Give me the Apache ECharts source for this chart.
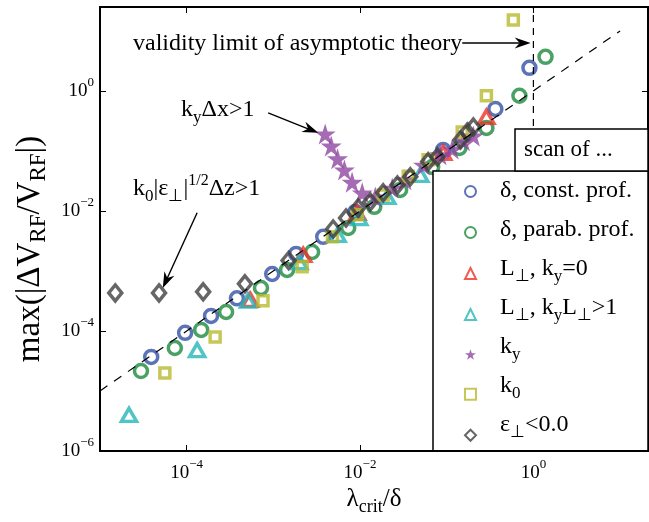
<!DOCTYPE html>
<html>
<head>
<meta charset="utf-8">
<script src="https://cdn.jsdelivr.net/npm/echarts@6/dist/echarts.min.js"></script>
<style>
  html, body { margin: 0; padding: 0; background: #fff; }
  #chart { width: 649px; height: 522px; }
</style>
</head>
<body>
<div id="chart"></div>
<script>
const FONT = "'Liberation Serif', 'Times New Roman', serif";

// Tick positions (powers of ten) on both log axes
const xTickValues = [1e-4, 1e-2, 1];
const yTickValues = [1e-6, 1e-4, 1e-2, 1];

// λ_crit/δ (x) and max(|ΔV_RF/V_RF|) (y) for each scan
const constProfX = [3.9e-5, 9.6e-5, 1.91e-4, 3.8e-4, 9.7e-4, 1.83e-3, 3.76e-3, 8.8e-3, 9.1e-2, 0.364, 0.90];
const constProfY = [3.7e-5, 9.3e-5, 1.78e-4, 3.5e-4, 8.9e-4, 1.92e-3, 3.7e-3, 9.6e-3, 0.104, 0.50, 2.42];

const parabProfX = [2.97e-5, 7.3e-5, 1.47e-4, 2.85e-4, 7.2e-4, 1.44e-3, 2.8e-3, 7.3e-3, 1.46e-2, 2.9e-2, 6.8e-2, 0.140, 0.287, 0.69, 1.38];
const parabProfY = [2.15e-5, 5.2e-5, 1.04e-4, 2.07e-4, 5.2e-4, 1.04e-3, 2.07e-3, 5.2e-3, 1.17e-2, 2.24e-2, 5.4e-2, 0.112, 0.242, 0.83, 3.7];

const lPerpKy0X = [5.4e-4, 2.21e-3, 9.3e-3, 9.1e-2, 0.287];
const lPerpKy0Y = [3.3e-4, 1.85e-3, 9.3e-3, 9.3e-2, 0.369];

const lPerpKyLX = [2.16e-5, 1.32e-4, 5.1e-4, 2.0e-3, 5.5e-3, 9.8e-3, 2.06e-2, 4.95e-2];
const lPerpKyLY = [4.0e-6, 4.8e-5, 3.2e-4, 1.4e-3, 4.0e-3, 7.6e-3, 1.71e-2, 4.0e-2];

const kyScanX = [3.96e-3, 4.65e-3, 5.5e-3, 6.6e-3, 8.1e-3, 1.06e-2, 1.5e-2, 2.35e-2, 3.3e-2, 5.4e-2, 8.4e-2, 0.116, 0.156, 0.203];
const kyScanY = [0.192, 0.121, 7.4e-2, 4.8e-2, 3.0e-2, 2.0e-2, 1.71e-2, 2.4e-2, 3.3e-2, 5.8e-2, 8.6e-2, 0.108, 0.147, 0.178];

const k0ScanX = [5.6e-5, 2.13e-4, 7.6e-4, 2.15e-3, 4.8e-3, 9.3e-3, 1.85e-2, 3.6e-2, 6.1e-2, 0.151, 0.287, 0.587];
const k0ScanY = [2.0e-5, 7.9e-5, 3.2e-4, 1.17e-3, 3.7e-3, 8.6e-3, 1.85e-2, 3.8e-2, 7.1e-2, 0.207, 0.83, 15.2];

const epsNegX = [1.5e-5, 4.8e-5, 1.55e-4, 4.7e-4, 1.5e-3, 4.9e-3, 6.9e-3, 9.5e-3, 1.31e-2, 1.85e-2, 2.7e-2, 3.8e-2, 6.1e-2, 7.8e-2, 0.144, 0.173, 0.203];
const epsNegY = [4.3e-4, 4.3e-4, 4.5e-4, 6.1e-4, 1.5e-3, 5.0e-3, 7.6e-3, 1.12e-2, 1.41e-2, 2.0e-2, 2.7e-2, 3.7e-2, 6.6e-2, 7.9e-2, 0.152, 0.207, 0.25];

// Asymptotic scaling y = x and the validity limit λ_crit/δ = 1
const scalingLineX = [1e-5, 10];
const validityLimitX = 1;

// Annotation arrows, tail and tip in data coordinates
const validityArrow = [[0.151, 6.3], [0.93, 6.3]];
const kyArrow = [[8.7e-4, 0.43], [3.3e-3, 0.2]];
const k0Arrow = [[1.32e-4, 9.3e-3], [5.3e-5, 5.2e-4]];

const seriesNames = ['δ, const. prof.', 'δ, parab. prof.', 'L⊥, ky=0', 'L⊥, kyL⊥>1', 'ky', 'k0', 'ε⊥<0.0'];
const legendRichText = [
  '{n|δ, const. prof.}',
  '{n|δ, parab. prof.}',
  '{n|L}{s|⊥}{n|, k}{s|y}{n|=0}',
  '{n|L}{s|⊥}{n|, k}{s|y}{n|L}{s|⊥}{n|>1}',
  '{n|k}{s|y}',
  '{n|k}{s|0}',
  '{n|ε}{s|⊥}{n|<0.0}'
];

const STAR = 'path://M0,-10 L2.245,-3.09 L9.51,-3.09 L3.633,1.18 L5.88,8.09 L0,3.82 L-5.88,8.09 L-3.633,1.18 L-9.51,-3.09 L-2.245,-3.09 Z';

function pairs(xs, ys) { return xs.map((x, i) => [x, ys[i]]); }

// Rich styles: n = normal text, s = subscript, p = superscript
const textRich = {
  n: { fontFamily: FONT, fontSize: 24, lineHeight: 32, color: '#000' },
  s: { fontFamily: FONT, fontSize: 17, lineHeight: 12, verticalAlign: 'bottom', color: '#000' },
  p: { fontFamily: FONT, fontSize: 16, lineHeight: 14, verticalAlign: 'top', color: '#000' }
};

const tickRich = {
  b: { fontFamily: FONT, fontSize: 19, lineHeight: 30, color: '#000' },
  e: { fontFamily: FONT, fontSize: 13, lineHeight: 14, verticalAlign: 'top', color: '#000' }
};

function powerLabel(v) {
  const e = v > 0 ? Math.round(Math.log10(v)) : v;
  return '{b|10}{e|' + (e < 0 ? '−' + Math.abs(e) : String(e)) + '}';
}

function hollow(name, symbol, size, color, xs, ys) {
  return {
    name, type: 'scatter', symbol, symbolSize: size,
    data: pairs(xs, ys), z: 2,
    itemStyle: { color: 'rgba(0,0,0,0)', borderColor: color, borderWidth: 3.5 }
  };
}

const chart = echarts.init(document.getElementById('chart'), null, { renderer: 'canvas' });

const tickStyle = { inside: true, length: 6, lineStyle: { color: '#000', width: 1 } };

// Legend geometry: marker rows are LEGEND_STEP px apart, labels drawn beside them
const LEGEND_LEFT = 433, LEGEND_TOP = 171, LEGEND_FIRST_ROW = 191, LEGEND_STEP = 39, LEGEND_TEXT_X = 500;

chart.setOption({
  animation: false,
  backgroundColor: '#fff',
  grid: {
    left: 100, right: 1, top: 7, bottom: 71,
    show: true, borderColor: '#000', borderWidth: 2,
    containLabel: false, outerBoundsMode: 'none'
  },
  xAxis: [
    {
      type: 'log', logBase: 10, min: 1e-5, max: 21, position: 'bottom',
      axisLine: { show: false }, splitLine: { show: false },
      axisTick: Object.assign({ customValues: xTickValues }, tickStyle),
      axisLabel: { customValues: xTickValues, formatter: powerLabel, rich: tickRich, margin: 7 },
      name: '{n|λ}{s|crit}{n|/δ}', nameLocation: 'middle', nameGap: 20,
      nameTextStyle: {
        rich: {
          n: { fontFamily: FONT, fontSize: 25, lineHeight: 32, color: '#000' },
          s: { fontFamily: FONT, fontSize: 18, lineHeight: 12, verticalAlign: 'bottom', color: '#000' }
        }
      }
    },
    {
      type: 'log', logBase: 10, min: 1e-5, max: 21, position: 'top',
      axisLine: { show: false }, splitLine: { show: false }, axisLabel: { show: false },
      axisTick: Object.assign({ customValues: xTickValues }, tickStyle)
    }
  ],
  yAxis: [
    {
      type: 'log', logBase: 10, min: 1e-6, max: 25, position: 'left',
      axisLine: { show: false }, splitLine: { show: false },
      axisTick: Object.assign({ customValues: yTickValues }, tickStyle),
      axisLabel: { customValues: yTickValues, formatter: powerLabel, rich: tickRich, margin: 6 },
      name: '{n|max(|ΔV}{s|RF}{n|/V}{s|RF}{n||)}', nameLocation: 'middle', nameGap: 48,
      nameTextStyle: {
        padding: [0, 40, 0, 0],
        rich: {
          n: { fontFamily: FONT, fontSize: 33, lineHeight: 40, color: '#000' },
          s: { fontFamily: FONT, fontSize: 23, lineHeight: 20, verticalAlign: 'bottom', color: '#000' }
        }
      }
    },
    {
      type: 'log', logBase: 10, min: 1e-6, max: 25, position: 'right',
      axisLine: { show: false }, splitLine: { show: false }, axisLabel: { show: false },
      axisTick: Object.assign({ customValues: yTickValues }, tickStyle)
    }
  ],
  legend: {
    orient: 'vertical', left: LEGEND_LEFT, top: LEGEND_TOP,
    itemWidth: 11, itemHeight: 11, itemGap: LEGEND_STEP - 11,
    padding: [LEGEND_FIRST_ROW - LEGEND_TOP - 6, 171, 9, 31],
    backgroundColor: '#fff', borderColor: '#000', borderWidth: 1.5,
    data: seriesNames,
    formatter: () => '',
    textStyle: { fontFamily: FONT, fontSize: 24, color: '#000' }
  },
  series: [
    hollow(seriesNames[0], 'circle', 13, '#3350a4', constProfX, constProfY),
    hollow(seriesNames[1], 'circle', 13, '#1b8a3c', parabProfX, parabProfY),
    hollow(seriesNames[2], 'triangle', [15, 13], '#ec3326', lPerpKy0X, lPerpKy0Y),
    hollow(seriesNames[3], 'triangle', [15, 13], '#25b5b8', lPerpKyLX, lPerpKyLY),
    {
      name: seriesNames[4], type: 'scatter', symbol: STAR, symbolSize: 21, z: 2,
      data: pairs(kyScanX, kyScanY),
      itemStyle: { color: '#8e46a0', borderWidth: 0 }
    },
    hollow(seriesNames[5], 'rect', 10, '#b6ba30', k0ScanX, k0ScanY),
    hollow(seriesNames[6], 'diamond', [13, 16], '#404040', epsNegX, epsNegY),
    {
      type: 'line', silent: true, showSymbol: false, z: 3,
      data: scalingLineX.map(v => [v, v]),
      lineStyle: { color: '#000', width: 1.2, type: [9, 8] }
    },
    {
      type: 'line', silent: true, showSymbol: false, z: 3,
      data: [[validityLimitX, 1e-6], [validityLimitX, 25]],
      lineStyle: { color: '#000', width: 1.2, type: [7, 6] }
    }
  ]
});

function toPx(p) { return chart.convertToPixel({ gridIndex: 0 }, p); }

// Straight arrow with a swept-back filled head
function arrow(pair) {
  const a = toPx(pair[0]);
  const b = toPx(pair[1]);
  const dx = b[0] - a[0], dy = b[1] - a[1];
  const len = Math.hypot(dx, dy);
  const ux = dx / len, uy = dy / len;
  const nx = -uy, ny = ux;
  const L = 16, W = 5.5, N = 11;
  const back = [b[0] - ux * L, b[1] - uy * L];
  const notch = [b[0] - ux * N, b[1] - uy * N];
  return [
    {
      type: 'line', z: 100,
      shape: { x1: a[0], y1: a[1], x2: notch[0], y2: notch[1] },
      style: { stroke: '#000', lineWidth: 1.4 }
    },
    {
      type: 'polygon', z: 100,
      shape: { points: [b, [back[0] + nx * W, back[1] + ny * W], notch, [back[0] - nx * W, back[1] - ny * W]] },
      style: { fill: '#000' }
    }
  ];
}

const legendLabels = legendRichText.map((t, i) => ({
  type: 'text', z: 101, x: LEGEND_TEXT_X, y: LEGEND_FIRST_ROW + i * LEGEND_STEP,
  style: { text: t, rich: textRich, verticalAlign: 'middle' }
}));

chart.setOption({
  graphic: [
    {
      type: 'rect', z: 100,
      shape: { x: 515, y: 129, width: 133, height: 42 },
      style: { fill: '#fff', stroke: '#000', lineWidth: 1.5 }
    },
    {
      type: 'text', z: 101, x: 524, y: 150,
      style: { text: 'scan of ...', font: '23px ' + FONT, fill: '#000', verticalAlign: 'middle' }
    },
    {
      type: 'text', z: 101, x: 133, y: 44,
      style: { text: 'validity limit of asymptotic theory', font: '24px ' + FONT, fill: '#000', verticalAlign: 'middle' }
    },
    {
      type: 'text', z: 101, x: 181, y: 110,
      style: { text: '{n|k}{s|y}{n|Δx>1}', rich: textRich, verticalAlign: 'middle' }
    },
    {
      type: 'text', z: 101, x: 133, y: 189,
      style: { text: '{n|k}{s|0}{n||ε}{s|⊥}{n||}{p|1/2}{n|Δz>1}', rich: textRich, verticalAlign: 'middle' }
    }
  ].concat(legendLabels, arrow(validityArrow), arrow(kyArrow), arrow(k0Arrow))
});
</script>
</body>
</html>
